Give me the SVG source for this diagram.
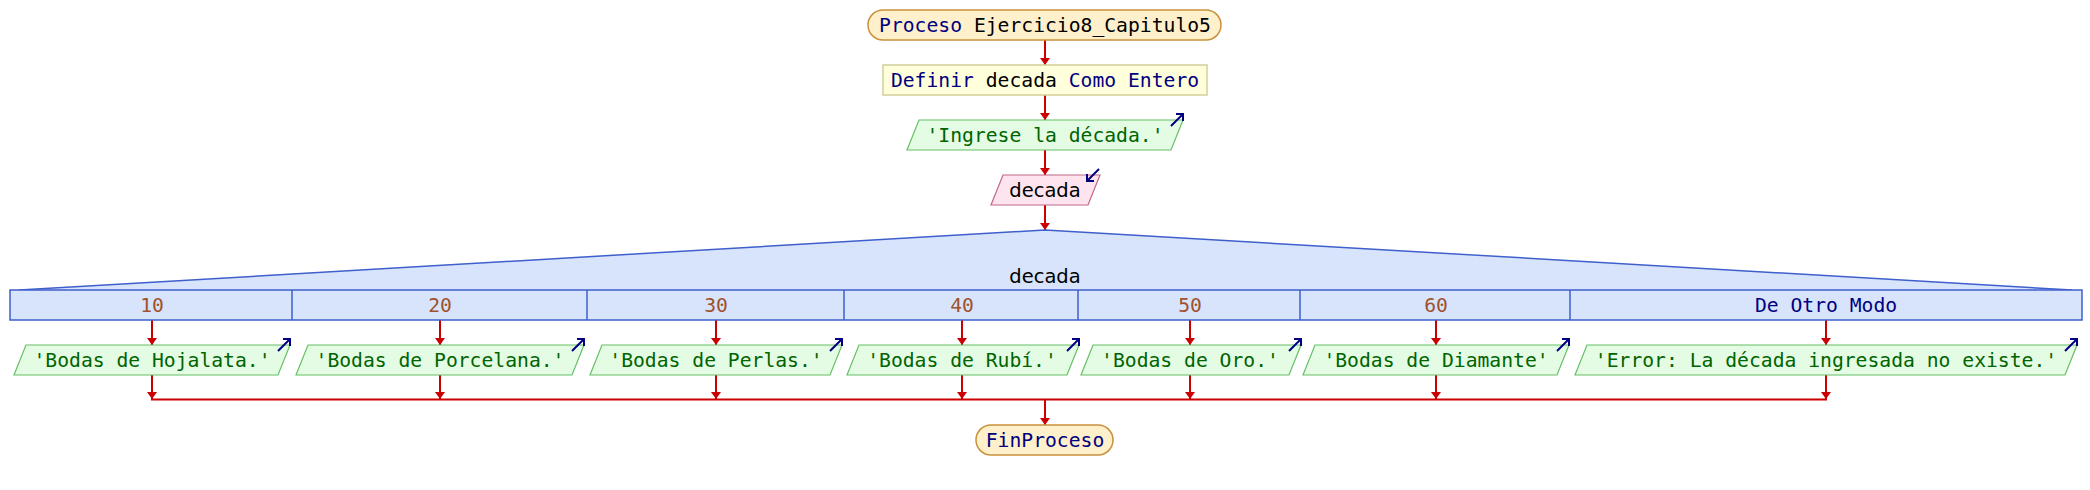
<svg xmlns="http://www.w3.org/2000/svg" width="2090" height="490" viewBox="0 0 2090 490">
<style>
.mono{font-family:"DejaVu Sans Mono","Liberation Mono",monospace;font-size:19.7px}
.sans{font-family:"DejaVu Sans","Liberation Sans",sans-serif;font-size:19.5px}
.kw{fill:#000080}
.id{fill:#000000}
.str{fill:#006400}
.num{fill:#a0522d}
.term{fill:#fff0cc;stroke:#c8913c;stroke-width:1.5}
.def{fill:#ffffdc;stroke:#d4d09a;stroke-width:1.5}
.out{fill:#e4fce4;stroke:#66c066;stroke-width:1.2}
.inp{fill:#fde4ef;stroke:#c0668a;stroke-width:1.2}
.sw{fill:#d7e4fc;stroke:#3f5fcc;stroke-width:1.5}
.conn{stroke:#cc0000;stroke-width:2;fill:none}
.icon{stroke:#000080;stroke-width:2;fill:none}
</style>
<defs>
<marker id="ah" markerWidth="8" markerHeight="10" refX="7" refY="5" orient="auto" markerUnits="userSpaceOnUse">
<path d="M0,0 L7,5 L0,10 z" fill="#cc0000"/>
</marker>
</defs>

<g id="connectors">
<line class="conn" x1="1045" y1="40" x2="1045" y2="65" marker-end="url(#ah)"/>
<line class="conn" x1="1045" y1="95" x2="1045" y2="120" marker-end="url(#ah)"/>
<line class="conn" x1="1045" y1="150" x2="1045" y2="175" marker-end="url(#ah)"/>
<line class="conn" x1="1045" y1="205" x2="1045" y2="230" marker-end="url(#ah)"/>
<line class="conn" x1="152" y1="320" x2="152" y2="345" marker-end="url(#ah)"/>
<line class="conn" x1="440" y1="320" x2="440" y2="345" marker-end="url(#ah)"/>
<line class="conn" x1="716" y1="320" x2="716" y2="345" marker-end="url(#ah)"/>
<line class="conn" x1="962" y1="320" x2="962" y2="345" marker-end="url(#ah)"/>
<line class="conn" x1="1190" y1="320" x2="1190" y2="345" marker-end="url(#ah)"/>
<line class="conn" x1="1436" y1="320" x2="1436" y2="345" marker-end="url(#ah)"/>
<line class="conn" x1="1826" y1="320" x2="1826" y2="345" marker-end="url(#ah)"/>
<line class="conn" x1="152" y1="375" x2="152" y2="399" marker-end="url(#ah)"/>
<line class="conn" x1="440" y1="375" x2="440" y2="399" marker-end="url(#ah)"/>
<line class="conn" x1="716" y1="375" x2="716" y2="399" marker-end="url(#ah)"/>
<line class="conn" x1="962" y1="375" x2="962" y2="399" marker-end="url(#ah)"/>
<line class="conn" x1="1190" y1="375" x2="1190" y2="399" marker-end="url(#ah)"/>
<line class="conn" x1="1436" y1="375" x2="1436" y2="399" marker-end="url(#ah)"/>
<line class="conn" x1="1826" y1="375" x2="1826" y2="399" marker-end="url(#ah)"/>
<line class="conn" x1="151" y1="399.5" x2="1827" y2="399.5"/>
<line class="conn" x1="1045" y1="399" x2="1045" y2="425" marker-end="url(#ah)"/>
</g>

<g id="n_inicio">
<rect class="term" x="868" y="10" width="353" height="30" rx="15" ry="15"/>
<text class="mono" x="1045" y="32" text-anchor="middle"><tspan class="kw">Proceso</tspan><tspan class="id"> Ejercicio8_Capitulo5</tspan></text>
</g>

<g id="n_definir">
<rect class="def" x="883" y="65" width="324" height="30"/>
<text class="mono" x="1045" y="87" text-anchor="middle"><tspan class="kw">Definir</tspan><tspan class="id"> decada </tspan><tspan class="kw">Como Entero</tspan></text>
</g>

<g id="n_escribir0">
<polygon class="out" points="919,120 1183,120 1171,150 907,150"/>
<text class="mono str" x="1045" y="142" text-anchor="middle">'Ingrese la década.'</text>
<path class="icon" d="M1171,126 L1183,114 M1176,114 L1183,114 L1183,121"/>
</g>

<g id="n_leer">
<polygon class="inp" points="1003,175 1100,175 1088,205 991,205"/>
<text class="sans id" x="1045" y="197" text-anchor="middle">decada</text>
<path class="icon" d="M1099,169 L1087,181 M1087,174 L1087,181 L1094,181"/>
</g>

<g id="n_segun">
<polygon points="10,290 19,290 1045,230 2072,290 2082,290 2082,300 10,300" fill="#d7e4fc"/>
<path d="M19,290 L1045,230 L2072,290" fill="none" stroke="#3f5fcc" stroke-width="1.5"/>
<text class="sans id" x="1045" y="283" text-anchor="middle">decada</text>
<rect class="sw" x="10" y="290" width="2072" height="30"/>
<g stroke="#3f5fcc" stroke-width="1.5">
<line x1="292" y1="290" x2="292" y2="320"/>
<line x1="587" y1="290" x2="587" y2="320"/>
<line x1="844" y1="290" x2="844" y2="320"/>
<line x1="1078" y1="290" x2="1078" y2="320"/>
<line x1="1300" y1="290" x2="1300" y2="320"/>
<line x1="1570" y1="290" x2="1570" y2="320"/>
</g>
<text class="mono num" x="152" y="312" text-anchor="middle">10</text>
<text class="mono num" x="440" y="312" text-anchor="middle">20</text>
<text class="mono num" x="716" y="312" text-anchor="middle">30</text>
<text class="mono num" x="962" y="312" text-anchor="middle">40</text>
<text class="mono num" x="1190" y="312" text-anchor="middle">50</text>
<text class="mono num" x="1436" y="312" text-anchor="middle">60</text>
<text class="mono kw" x="1826" y="312" text-anchor="middle">De Otro Modo</text>
</g>

<g id="n_c10">
<polygon class="out" points="26,345 290,345 278,375 14,375"/>
<text class="mono str" x="152" y="367" text-anchor="middle">'Bodas de Hojalata.'</text>
<path class="icon" d="M278,351 L290,339 M283,339 L290,339 L290,346"/>
</g>

<g id="n_c20">
<polygon class="out" points="308,345 584,345 572,375 296,375"/>
<text class="mono str" x="440" y="367" text-anchor="middle">'Bodas de Porcelana.'</text>
<path class="icon" d="M572,351 L584,339 M577,339 L584,339 L584,346"/>
</g>

<g id="n_c30">
<polygon class="out" points="602,345 842,345 830,375 590,375"/>
<text class="mono str" x="716" y="367" text-anchor="middle">'Bodas de Perlas.'</text>
<path class="icon" d="M830,351 L842,339 M835,339 L842,339 L842,346"/>
</g>

<g id="n_c40">
<polygon class="out" points="859,345 1079,345 1067,375 847,375"/>
<text class="mono str" x="962" y="367" text-anchor="middle">'Bodas de Rubí.'</text>
<path class="icon" d="M1067,351 L1079,339 M1072,339 L1079,339 L1079,346"/>
</g>

<g id="n_c50">
<polygon class="out" points="1093,345 1301,345 1289,375 1081,375"/>
<text class="mono str" x="1190" y="367" text-anchor="middle">'Bodas de Oro.'</text>
<path class="icon" d="M1289,351 L1301,339 M1294,339 L1301,339 L1301,346"/>
</g>

<g id="n_c60">
<polygon class="out" points="1315,345 1569,345 1557,375 1303,375"/>
<text class="mono str" x="1436" y="367" text-anchor="middle">'Bodas de Diamante'</text>
<path class="icon" d="M1557,351 L1569,339 M1562,339 L1569,339 L1569,346"/>
</g>

<g id="n_otro">
<polygon class="out" points="1587,345 2077,345 2065,375 1575,375"/>
<text class="mono str" x="1826" y="367" text-anchor="middle">'Error: La década ingresada no existe.'</text>
<path class="icon" d="M2065,351 L2077,339 M2070,339 L2077,339 L2077,346"/>
</g>

<g id="n_fin">
<rect class="term" x="976" y="425" width="137" height="30" rx="15" ry="15"/>
<text class="mono kw" x="1045" y="447" text-anchor="middle">FinProceso</text>
</g>
</svg>
